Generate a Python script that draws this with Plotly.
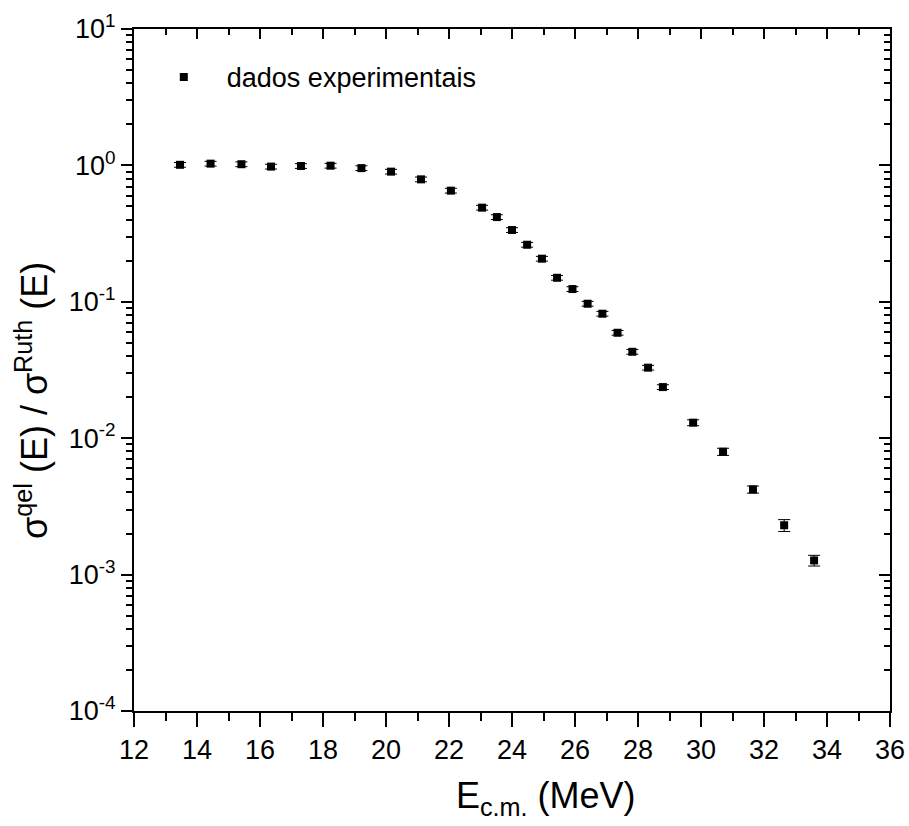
import plotly.graph_objects as go

# ---- data ----
energy = [13.46, 14.43, 15.41, 16.35, 17.30, 18.24, 19.22, 20.16, 21.11, 22.06,
          23.05, 23.52, 24.00, 24.48, 24.95, 25.43, 25.92, 26.40, 26.87, 27.35,
          27.82, 28.32, 28.79, 29.75, 30.70, 31.65, 32.64, 33.59]
ratio = [1.01, 1.03, 1.02, 0.98, 0.99, 0.995, 0.955, 0.90, 0.79, 0.653,
         0.49, 0.418, 0.336, 0.262, 0.207, 0.150, 0.124, 0.0968, 0.0818, 0.0593,
         0.0430, 0.0329, 0.0237, 0.0130, 0.00796, 0.00421, 0.00230, 0.00127]
rel_err = [0.04] * 23 + [0.05, 0.06, 0.06, 0.10, 0.09]
err = [r * e for r, e in zip(ratio, rel_err)]

ytick_vals = [1e-4, 1e-3, 1e-2, 1e-1, 1, 10]
ytick_text = ["10<sup>-4</sup>", "10<sup>-3</sup>", "10<sup>-2</sup>",
              "10<sup>-1</sup>", "10<sup>0</sup>", "10<sup>1</sup>"]
yminor_vals = [m * 10 ** k for k in range(-4, 1) for m in range(2, 10)]
series_name = "dados experimentais"
x_title = "E<sub>c.m.</sub> (MeV)"
y_title = "σ<sup>qel</sup> (E) / σ<sup>Ruth</sup> (E)"

FONT = "Liberation Sans, Arial, sans-serif"

fig = go.Figure()
fig.add_trace(go.Scatter(
    x=energy, y=ratio, mode="markers", name=series_name,
    marker=dict(symbol="square", size=8, color="black"),
    error_y=dict(type="data", array=err, visible=True, color="black",
                 thickness=1, width=6),
))
# invisible trace to anchor mirrored axes (top/right)
fig.add_trace(go.Scatter(x=energy, y=ratio, xaxis="x2", yaxis="y2",
                         mode="markers", marker=dict(opacity=0),
                         showlegend=False, hoverinfo="skip"))

axis_common = dict(showline=True, linecolor="black", linewidth=2,
                   showgrid=False, zeroline=False, tickcolor="black",
                   tickwidth=2, automargin=False)

fig.update_layout(
    template="none",
    width=909, height=826,
    margin=dict(l=134, r=19, t=29, b=115, autoexpand=False),
    paper_bgcolor="white", plot_bgcolor="white",
    font=dict(family=FONT, color="black", size=27),
    showlegend=True,
    legend=dict(x=0.009, y=0.965, xanchor="left", yanchor="top",
                bgcolor="rgba(0,0,0,0)", font=dict(size=27, family=FONT),
                itemwidth=76),
    xaxis=dict(range=[12, 36], dtick=2, tick0=12, ticks="outside",
               ticklen=14, tickfont=dict(size=27),
               minor=dict(dtick=1, tick0=12, ticks="outside", ticklen=8,
                          tickwidth=2, tickcolor="black"),
               **axis_common),
    xaxis2=dict(range=[12, 36], overlaying="x", side="top", anchor="y",
                dtick=2, tick0=12, ticks="inside", ticklen=10,
                showticklabels=False,
                minor=dict(dtick=1, tick0=12, ticks="inside", ticklen=6,
                           tickwidth=2, tickcolor="black"),
                **axis_common),
    yaxis=dict(type="log", range=[-4, 1], tickmode="array",
               tickvals=ytick_vals, ticktext=ytick_text, ticks="outside",
               ticklen=11, tickfont=dict(size=27),
               minor=dict(tickmode="array", tickvals=yminor_vals,
                          ticks="outside", ticklen=6, tickwidth=2,
                          tickcolor="black"),
               **axis_common),
    yaxis2=dict(type="log", range=[-4, 1], overlaying="y", side="right",
                anchor="x", tickmode="array", tickvals=ytick_vals,
                ticks="inside", ticklen=11, showticklabels=False,
                minor=dict(tickmode="array", tickvals=yminor_vals,
                           ticks="inside", ticklen=6, tickwidth=2,
                           tickcolor="black"),
                **axis_common),
    annotations=[
        dict(text=x_title, xref="paper", yref="paper", x=0.545, y=-0.128,
             xanchor="center", yanchor="middle", showarrow=False,
             font=dict(size=36, family=FONT)),
        dict(text=y_title, xref="paper", yref="paper", x=-0.135, y=0.456,
             xanchor="center", yanchor="middle", textangle=-90,
             showarrow=False, font=dict(size=36, family=FONT)),
    ],
)

fig.write_html("out.html")
